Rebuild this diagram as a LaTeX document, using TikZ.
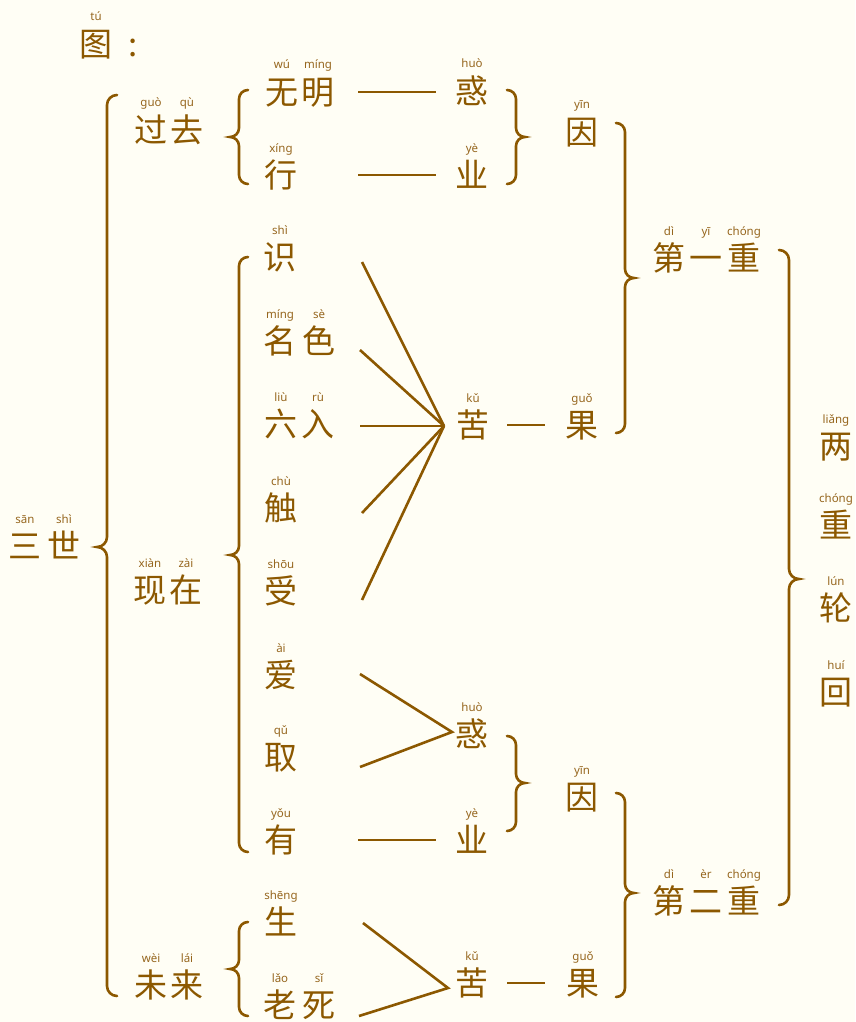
\documentclass[tikz,border=0pt]{standalone}
\usepackage{fontspec}
\newfontfamily\cjk{Noto Sans CJK SC}
\newfontfamily\pyfont{Noto Sans}
\definecolor{ink}{RGB}{140,88,0}
\definecolor{pyc}{RGB}{150,102,30}
\definecolor{bg}{RGB}{255,254,245}
\tikzset{
 zi/.style={anchor=center, inner sep=0pt, text height=25pt, text depth=0pt, text=ink, font=\cjk\fontsize{33}{33}\selectfont},
 py/.style={anchor=base, inner sep=0pt, text=pyc, font=\pyfont\fontsize{11.5}{11.5}\selectfont},
 ln/.style={draw=ink, line width=2.6pt},
 br/.style={draw=ink, line width=2.6pt, line cap=round},
}
% #1 name, #2 x, #3 y, #4 character, #5 pinyin
\newcommand\Zi[5]{\node[zi] (#1) at (#2,#3) {#4}; \node[py] (#1p) at (#2,#3-23) {#5};}
% left brace: x, top, bottom, tip y, r
\newcommand\BrL[5]{\draw[br] (#1+#5,#2) to[out=180,in=90] (#1,#2+#5) -- (#1,#4-#5) to[out=-90,in=0] (#1-#5,#4) to[out=0,in=90] (#1,#4+#5) -- (#1,#3-#5) to[out=-90,in=180] (#1+#5,#3);}
% right brace
\newcommand\BrR[5]{\draw[br] (#1-#5,#2) to[out=0,in=90] (#1,#2+#5) -- (#1,#4-#5) to[out=-90,in=180] (#1+#5,#4) to[out=180,in=90] (#1,#4+#5) -- (#1,#3-#5) to[out=-90,in=0] (#1-#5,#3);}
\begin{document}
\begin{tikzpicture}[x=1pt,y=-1pt]
\fill[bg] (0,0) rectangle (855,1022);
\useasboundingbox (0,0) rectangle (855,1022);
% title
\Zi{tu}{96}{44}{图}{tú}
\node[zi] (colon) at (133,44) {:};
% left column
\Zi{san}{25}{546}{三}{sān}
\Zi{shii}{64}{546}{世}{shì}
\Zi{guo}{151}{130}{过}{guò}
\Zi{qu}{187}{130}{去}{qù}
\Zi{xian}{150}{590}{现}{xiàn}
\Zi{zai}{186}{590}{在}{zài}
\Zi{wei}{151}{985}{未}{wèi}
\Zi{lai}{187}{985}{来}{lái}
% twelve links
\Zi{wu}{282}{92}{无}{wú}
\Zi{ming}{318}{92}{明}{míng}
\Zi{xing}{281}{175}{行}{xíng}
\Zi{shi}{280}{257}{识}{shì}
\Zi{ming2}{280}{341}{名}{míng}
\Zi{se}{319}{341}{色}{sè}
\Zi{liu}{281}{424}{六}{liù}
\Zi{ru}{318}{424}{入}{rù}
\Zi{chu}{281}{508}{触}{chù}
\Zi{shou}{281}{591}{受}{shōu}
\Zi{ai}{281}{675}{爱}{ài}
\Zi{quu}{281}{757}{取}{qǔ}
\Zi{you}{281}{840}{有}{yǒu}
\Zi{sheng}{281}{922}{生}{shēng}
\Zi{lao}{280}{1005}{老}{lǎo}
\Zi{si}{319}{1005}{死}{sǐ}
% middle column
\Zi{huoA}{472}{91}{惑}{huò}
\Zi{yeA}{472}{175}{业}{yè}
\Zi{kuA}{473}{425}{苦}{kǔ}
\Zi{huoB}{472}{734}{惑}{huò}
\Zi{yeB}{472}{840}{业}{yè}
\Zi{kuB}{472}{983}{苦}{kǔ}
% cause / effect
\Zi{yinA}{582}{132}{因}{yīn}
\Zi{guoA}{582}{425}{果}{guǒ}
\Zi{yinB}{582}{797}{因}{yīn}
\Zi{guoB}{583}{983}{果}{guǒ}
% layers
\Zi{diA}{669}{258}{第}{dì}
\Zi{yi}{706}{258}{一}{yī}
\Zi{chongA}{744}{258}{重}{chóng}
\Zi{diB}{669}{901}{第}{dì}
\Zi{er}{706}{901}{二}{èr}
\Zi{chongB}{744}{901}{重}{chóng}
% right column
\Zi{liang}{836}{446}{两}{liǎng}
\Zi{chong}{836}{525}{重}{chóng}
\Zi{lun}{836}{608}{轮}{lún}
\Zi{hui}{836}{692}{回}{huí}
% horizontal links
\draw[ln, shorten <=23.5pt, shorten >=19.5pt] (ming.east) -- (ming.east -| huoA.west);
\draw[ln, shorten <=60.5pt, shorten >=19.5pt] (xing.east) -- (xing.east -| yeA.west);
\draw[ln, shorten <=60.5pt, shorten >=19.5pt] (you.east) -- (you.east -| yeB.west);
\draw[ln, shorten <=17.5pt, shorten >=20.5pt] (kuA.east) -- (kuA.east -| guoA.west);
\draw[ln, shorten <=18.5pt, shorten >=21.5pt] (kuB.east) -- (kuB.east -| guoB.west);
% fan to 苦
\coordinate (fanA) at (444,426);
\coordinate (f1) at (362,262);
\coordinate (f2) at (360,350);
\coordinate (f3) at (360,426);
\coordinate (f4) at (362,513);
\coordinate (f5) at (362,600);
\foreach \p in {f1,f2,f3,f4,f5} \draw[ln] (\p) -- (fanA);
% 爱 取 to 惑
\coordinate (fanB) at (452,732);
\coordinate (g1) at (360,674);
\coordinate (g2) at (360,767);
\draw[ln] (g1) -- (fanB) -- (g2);
% 生 老死 to 苦
\coordinate (fanC) at (448,988);
\coordinate (h1) at (363,923);
\coordinate (h2) at (359,1016);
\draw[ln] (h1) -- (fanC) -- (h2);
% braces
\BrL{107}{95}{996}{547}{10}
\BrL{239}{90}{184}{137}{9}
\BrL{239}{257}{852}{555}{9}
\BrL{239}{922}{1016}{969}{9}
\BrR{516}{90}{184}{137}{9}
\BrR{625}{123}{433}{278}{9}
\BrR{789}{250}{905}{579}{10}
\BrR{516}{736}{831}{783}{9}
\BrR{625}{793}{997}{893}{9}
\end{tikzpicture}
\end{document}
